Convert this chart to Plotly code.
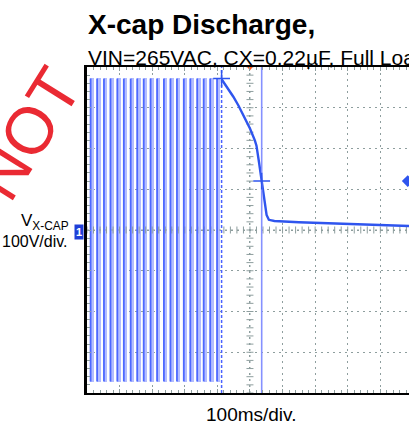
import plotly.graph_objects as go

# ---------------- data (read from the scope capture) ----------------
# AC line voltage before the mains is disconnected, as displayed by the scope:
# one min/max column per line cycle (ms, V)
ac_t = [11, 31, 52, 72, 93, 113, 134, 154, 174, 195, 215, 236, 256, 276, 297, 317,
        338, 358, 378, 399]
ac_max = [372, 372, 372, 372, 372, 372, 372, 372, 372, 372, 372, 372, 372, 372, 372,
          372, 372, 372, 372, 372]
ac_min = [-372, -372, -372, -372, -372, -372, -372, -372, -372, -372, -372, -372, -372,
          -372, -372, -372, -372, -372, -372, -372]

# X-cap discharge after disconnect (ms, V)
dec_t = [413, 430, 449, 465, 480, 500, 515, 520, 528, 536, 551, 558, 575, 650, 750, 850, 988]
dec_v = [370, 350, 327, 305, 282, 249, 220, 207, 165, 120, 37, 25, 22, 19, 16, 13, 10]

# cursors / markers
cursor_a_t = 413
cursor_a_v = 372
cursor_b_t = 536
cursor_b_v = 120
trigger_t = 500
trigger_level = 120

x_range = [0, 988]     # 100 ms/div
y_range = [-400, 400]  # 100 V/div

# ---------------- figure ----------------
W, H = 409, 428
L, R, T, B = 87, 0, 67, 35
PW, PH = W - L - R, H - T - B


def px(xp):
    return (xp - L) / PW


def py(yp):
    return (H - B - yp) / PH


grid_col = "#8e9e9e"

fig = go.Figure()

# center axes of the graticule with minor ticks
cx = [x_range[0] + i * 20 for i in range(0, 50)]
cy = [y_range[0] + i * 20 for i in range(0, 41)]
fig.add_trace(go.Scatter(x=[x_range[0], x_range[1]], y=[0, 0], mode="lines",
                         line=dict(color=grid_col, width=1, dash="2px,4px"), hoverinfo="skip"))
fig.add_trace(go.Scatter(x=[trigger_t, trigger_t], y=y_range, mode="lines",
                         line=dict(color=grid_col, width=1, dash="2px,4px"), hoverinfo="skip"))
fig.add_trace(go.Scatter(x=cx, y=[0] * len(cx), mode="markers",
                         marker=dict(symbol="line-ns-open", size=5, color=grid_col,
                                     line=dict(color=grid_col, width=1)),
                         hoverinfo="skip"))
fig.add_trace(go.Scatter(x=[trigger_t] * len(cy), y=cy, mode="markers",
                         marker=dict(symbol="line-ew-open", size=5, color=grid_col,
                                     line=dict(color=grid_col, width=1)),
                         hoverinfo="skip"))

# AC waveform: light envelope columns + bright trace line in each column
fig.add_trace(go.Bar(x=[t + 5 for t in ac_t], y=[hi - lo for hi, lo in zip(ac_max, ac_min)],
                     base=ac_min, width=11, marker=dict(color="#b3bdff", line=dict(width=0)),
                     hoverinfo="skip"))
col_x, col_y = [], []
for t, hi, lo in zip(ac_t, ac_max, ac_min):
    col_x += [t, t, None]
    col_y += [lo, hi, None]
fig.add_trace(go.Scatter(x=col_x, y=col_y, mode="lines",
                         line=dict(color="#4d68ff", width=1.8), hoverinfo="skip"))

# discharge
fig.add_trace(go.Scatter(x=dec_t, y=dec_v, mode="lines",
                         line=dict(color="#2f55ee", width=2.4), hoverinfo="skip"))

# cursors
fig.add_trace(go.Scatter(x=[cursor_a_t, cursor_a_t], y=y_range, mode="lines",
                         line=dict(color="#4a62ff", width=1.5, dash="3px,2px"), hoverinfo="skip"))
fig.add_trace(go.Scatter(x=[cursor_b_t, cursor_b_t], y=y_range, mode="lines",
                         line=dict(color="#8591ff", width=1.6), hoverinfo="skip"))
fig.add_trace(go.Scatter(x=[cursor_a_t, cursor_b_t], y=[cursor_a_v, cursor_b_v], mode="markers",
                         marker=dict(symbol="cross-thin", size=12, line=dict(color="#2f55ee", width=1.5)),
                         hoverinfo="skip"))

# trigger position (top) and trigger level (right) markers
fig.add_trace(go.Scatter(x=[trigger_t], y=[y_range[1]], mode="markers", cliponaxis=False,
                         marker=dict(symbol="triangle-down", size=7, color="#ff5a1a"),
                         hoverinfo="skip"))
fig.add_trace(go.Scatter(x=[x_range[1] - 4], y=[trigger_level], mode="markers", cliponaxis=False,
                         marker=dict(symbol="diamond", size=9, color="#2f55ee"),
                         hoverinfo="skip"))
# channel 1 ground marker arrow
fig.add_trace(go.Scatter(x=[-4], y=[0], mode="markers", cliponaxis=False,
                         marker=dict(symbol="triangle-right", size=7, color="#1f3fd8"),
                         hoverinfo="skip"))

fig.update_xaxes(range=x_range, dtick=100, tick0=0, showgrid=True, gridcolor=grid_col,
                 griddash="2px,4px", gridwidth=1, showticklabels=False, ticks="inside",
                 ticklen=4, tickcolor=grid_col, showline=True, linecolor="black", linewidth=2.2,
                 mirror="ticks", zeroline=False,
                 minor=dict(dtick=20, ticks="inside", ticklen=2.5, tickcolor=grid_col, showgrid=False))
fig.update_yaxes(range=y_range, dtick=100, tick0=0, showgrid=True, gridcolor=grid_col,
                 griddash="2px,4px", gridwidth=1, showticklabels=False, ticks="inside",
                 ticklen=4, tickcolor=grid_col, showline=True, linecolor="black", linewidth=3,
                 mirror=False, zeroline=False,
                 minor=dict(dtick=20, ticks="inside", ticklen=2.5, tickcolor=grid_col, showgrid=False))

font_fam = "Liberation Sans, Arial, sans-serif"
ann = [
    # watermark
    dict(x=px(27), y=py(134), xref="paper", yref="paper", text="NOT", showarrow=False,
         textangle=-58, font=dict(family=font_fam, size=66, color="#e8141e"), opacity=0.9,
         xanchor="center", yanchor="middle"),
    dict(x=px(86), y=py(24), xref="paper", yref="paper", text="<b>X-cap Discharge,</b>",
         showarrow=False, xanchor="left", yanchor="middle",
         font=dict(family=font_fam, size=28, color="black")),
    dict(x=px(86), y=py(57.5), xref="paper", yref="paper",
         text="VIN=265VAC, CX=0.22µF, Full Load",
         showarrow=False, xanchor="left", yanchor="middle",
         font=dict(family=font_fam, size=21, color="black")),
    dict(x=px(71), y=py(222), xref="paper", yref="paper", text="V<sub>X-CAP</sub>",
         showarrow=False, xanchor="right", yanchor="middle",
         font=dict(family=font_fam, size=17, color="black")),
    dict(x=px(70), y=py(241), xref="paper", yref="paper", text="100V/div.",
         showarrow=False, xanchor="right", yanchor="middle",
         font=dict(family=font_fam, size=16, color="black")),
    dict(x=px(251), y=py(414), xref="paper", yref="paper", text="100ms/div.",
         showarrow=False, xanchor="center", yanchor="middle",
         font=dict(family=font_fam, size=19, color="black")),
    dict(x=px(79), y=py(232), xref="paper", yref="paper", text="<b>1</b>",
         showarrow=False, xanchor="center", yanchor="middle", bgcolor="#1f3fd8",
         borderpad=1, font=dict(family=font_fam, size=11, color="white")),
]

# underline of the subtitle
shapes = [dict(type="line", xref="paper", yref="paper", x0=px(88), x1=1.0,
               y0=py(66), y1=py(66), line=dict(color="black", width=1.6))]

fig.update_layout(width=W, height=H, margin=dict(l=L, r=R, t=T, b=B, pad=0),
                  plot_bgcolor="white", paper_bgcolor="white", showlegend=False,
                  annotations=ann, shapes=shapes, bargap=0)

fig.write_html("out.html", config={"displayModeBar": False},
               post_script="document.body.style.margin='0px';")
